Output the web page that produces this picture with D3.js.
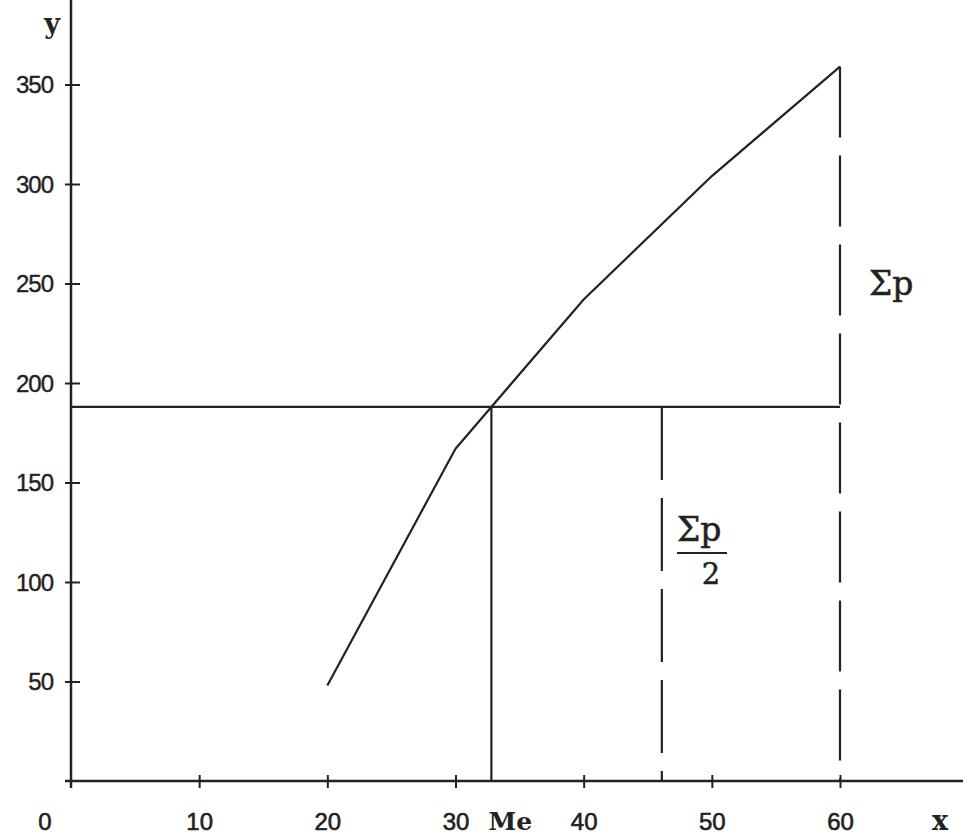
<!DOCTYPE html>
<html>
<head>
<meta charset="utf-8">
<script src="https://cdn.jsdelivr.net/npm/d3@7"></script>
<style>
  html, body { margin: 0; padding: 0; background: #fff; }
  svg { display: block; }
</style>
</head>
<body>
<svg id="chart" width="969" height="839"></svg>
<script>
// ---- data ----
const xTicks = [10, 20, 30, 40, 50, 60];
const yTicks = [50, 100, 150, 200, 250, 300, 350];
const classBounds = [20, 30, 40, 50, 60];          // x of cumulative points
const cumulative = [48, 167, 242, 304, 359];       // cumulative frequencies
const totalP = 359;        // Σp (top of ogive)
const halfP = 188;         // Σp / 2 level
const medianX = 32.8;      // Me
const dashX = 46.1;        // dashed marker for Σp/2

const svg = d3.select("#chart");
const ink = "#222";
const sans = "'Liberation Sans', Arial, sans-serif";
const serif = "'DejaVu Serif', 'Liberation Serif', serif";

const x = d3.scaleLinear().domain([0, 60]).range([71, 840]);
const y = d3.scaleLinear().domain([0, 350]).range([781, 84.5]);

// axis lines
svg.append("line")
  .attr("x1", x(0)).attr("x2", x(0))
  .attr("y1", 0).attr("y2", y(0) + 7)
  .attr("stroke", ink).attr("stroke-width", 2.5);
svg.append("line")
  .attr("x1", x(0) - 6).attr("x2", 963)
  .attr("y1", y(0)).attr("y2", y(0))
  .attr("stroke", ink).attr("stroke-width", 2.5);

// x axis
const gx = svg.append("g")
  .attr("transform", `translate(0,${y(0)})`)
  .call(d3.axisBottom(x).tickValues(xTicks).tickSize(7).tickFormat(d3.format("d")));
gx.select(".domain").remove();
gx.selectAll(".tick line").attr("y1", -6).attr("y2", 7)
  .attr("stroke", ink).attr("stroke-width", 2);
gx.selectAll(".tick text")
  .attr("y", 49).attr("dy", 0)
  .attr("fill", ink).attr("stroke", ink).attr("stroke-width", 0.6)
  .style("font-family", sans)
  .style("font-size", "24px");

// y axis
const gy = svg.append("g")
  .attr("transform", `translate(${x(0)},0)`)
  .call(d3.axisLeft(y).tickValues(yTicks).tickSize(6).tickFormat(d3.format("d")));
gy.select(".domain").remove();
gy.selectAll(".tick line").attr("x1", 9).attr("x2", -6)
  .attr("stroke", ink).attr("stroke-width", 2);
gy.selectAll(".tick text")
  .attr("x", -18).attr("dy", "0.35em")
  .attr("fill", ink).attr("stroke", ink).attr("stroke-width", 0.4)
  .style("font-family", sans)
  .style("font-size", "24px")
  .style("letter-spacing", "-1px");

// origin label
svg.append("text")
  .attr("x", 45).attr("y", 830)
  .attr("text-anchor", "middle")
  .attr("fill", ink).attr("stroke", ink).attr("stroke-width", 0.6)
  .style("font-family", sans)
  .style("font-size", "24px")
  .text("0");

// axis names
svg.append("text")
  .attr("x", 52).attr("y", 33)
  .attr("text-anchor", "middle").attr("fill", ink)
  .style("font-family", serif).style("font-size", "27px").style("font-weight", "bold")
  .text("y");
svg.append("text")
  .attr("x", 940).attr("y", 830)
  .attr("text-anchor", "middle").attr("fill", ink)
  .style("font-family", serif).style("font-size", "27px").style("font-weight", "bold")
  .text("x");
svg.append("text")
  .attr("x", x(medianX) + 19).attr("y", 830)
  .attr("text-anchor", "middle").attr("fill", ink)
  .style("font-family", serif).style("font-size", "25px").style("font-weight", "bold")
  .text("Me");

// horizontal Σp/2 line
svg.append("line")
  .attr("x1", x(0)).attr("x2", x(60))
  .attr("y1", y(halfP)).attr("y2", y(halfP))
  .attr("stroke", ink).attr("stroke-width", 2.2);

// median vertical (solid)
svg.append("line")
  .attr("x1", x(medianX)).attr("x2", x(medianX))
  .attr("y1", y(halfP)).attr("y2", y(0))
  .attr("stroke", ink).attr("stroke-width", 2.2);

// dashed Σp/2 marker
svg.append("line")
  .attr("x1", x(dashX)).attr("x2", x(dashX))
  .attr("y1", y(halfP)).attr("y2", y(0))
  .attr("stroke", ink).attr("stroke-width", 2.2)
  .attr("stroke-dasharray", "73,18");

// dashed Σp line at x = 60
svg.append("line")
  .attr("x1", x(60)).attr("x2", x(60))
  .attr("y1", y(totalP)).attr("y2", y(0))
  .attr("stroke", ink).attr("stroke-width", 2.2)
  .attr("stroke-dasharray", "71,18");

// ogive
const pts = classBounds.map((d, i) => [d, cumulative[i]]);
svg.append("path")
  .datum(pts)
  .attr("fill", "none")
  .attr("stroke", ink).attr("stroke-width", 2.2)
  .attr("stroke-linejoin", "round")
  .attr("d", d3.line().x(d => x(d[0])).y(d => y(d[1])));

// Σp label
svg.append("text")
  .attr("x", 869).attr("y", 295)
  .attr("fill", ink).attr("stroke", ink).attr("stroke-width", 0.5)
  .style("font-family", serif).style("font-size", "33px")
  .text("Σp");

// fraction Σp / 2
svg.append("text")
  .attr("x", 677).attr("y", 541)
  .attr("fill", ink).attr("stroke", ink).attr("stroke-width", 0.5)
  .style("font-family", serif).style("font-size", "33px")
  .text("Σp");
svg.append("line")
  .attr("x1", 677).attr("x2", 727)
  .attr("y1", 553).attr("y2", 553)
  .attr("stroke", ink).attr("stroke-width", 2);
svg.append("text")
  .attr("x", 711).attr("y", 584)
  .attr("text-anchor", "middle")
  .attr("fill", ink).attr("stroke", ink).attr("stroke-width", 0.5)
  .style("font-family", serif).style("font-size", "29px")
  .text("2");
</script>
</body>
</html>
